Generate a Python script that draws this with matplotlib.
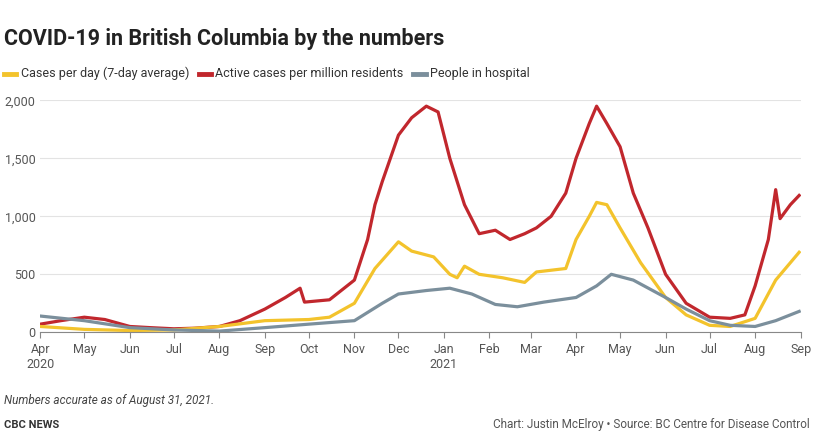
import matplotlib
matplotlib.use("Agg")
import matplotlib.pyplot as plt
import pandas as pd

plt.rcParams['font.family'] = ['Roboto', 'DejaVu Sans']

red_dates = ["2020-04-01","2020-04-15","2020-05-01","2020-05-15","2020-06-01","2020-06-15","2020-07-01","2020-07-15",
             "2020-08-01","2020-08-15","2020-09-01","2020-09-15","2020-09-25","2020-09-28","2020-10-15","2020-11-01",
             "2020-11-10","2020-11-15","2020-11-20","2020-12-01","2020-12-10","2020-12-20","2020-12-28","2021-01-05",
             "2021-01-15","2021-01-25","2021-02-05","2021-02-15","2021-02-25","2021-03-05","2021-03-15","2021-03-25",
             "2021-04-01","2021-04-10","2021-04-15","2021-04-22","2021-05-01","2021-05-10","2021-05-20","2021-06-01",
             "2021-06-15","2021-07-01","2021-07-15","2021-07-25","2021-08-01","2021-08-10","2021-08-15","2021-08-18",
             "2021-08-25","2021-08-31"]
red_vals = [70,100,130,110,50,40,30,35,50,100,200,300,380,260,280,450,800,1100,1300,1700,1850,1950,1900,1500,
            1100,850,880,800,850,900,1000,1200,1500,1800,1950,1800,1600,1200,900,500,250,130,120,150,400,800,
            1230,980,1100,1180]

yel_dates = ["2020-04-01","2020-05-01","2020-06-01","2020-07-01","2020-08-01","2020-09-01","2020-10-01","2020-10-15",
             "2020-11-01","2020-11-15","2020-12-01","2020-12-10","2020-12-25","2021-01-05","2021-01-10","2021-01-15",
             "2021-01-25","2021-02-10","2021-02-25","2021-03-05","2021-03-25","2021-04-01","2021-04-10","2021-04-15",
             "2021-04-22","2021-05-01","2021-05-15","2021-06-01","2021-06-15","2021-07-01","2021-07-15","2021-08-01",
             "2021-08-15","2021-08-31"]
yel_vals = [50,25,15,20,50,100,110,130,250,550,780,700,650,500,470,570,500,470,430,520,550,800,1000,1120,
            1100,900,600,300,150,60,50,120,450,690]

gry_dates = ["2020-04-01","2020-05-01","2020-06-01","2020-07-01","2020-08-01","2020-09-01","2020-10-01","2020-11-01",
             "2020-11-20","2020-12-01","2020-12-20","2021-01-05","2021-01-20","2021-02-05","2021-02-20","2021-03-10",
             "2021-04-01","2021-04-15","2021-04-25","2021-05-10","2021-06-01","2021-06-15","2021-07-01","2021-07-15",
             "2021-08-01","2021-08-15","2021-08-31"]
gry_vals = [140,100,40,20,10,40,70,100,250,330,360,380,330,240,220,260,300,400,500,450,300,200,100,60,50,100,180]

month_ticks = pd.date_range("2020-04-01", "2021-09-01", freq="MS")
month_labels = [d.strftime("%b") + ("\n" + str(d.year) if d.month == 4 and d.year == 2020 or d.month == 1 else "")
                for d in month_ticks]

fig = plt.figure(figsize=(8.22, 4.46), dpi=100)
ax = fig.add_axes([0.049, 0.255, 0.925, 0.52])

ax.plot(pd.to_datetime(red_dates), red_vals, color="#c1272d", lw=2.3)
ax.plot(pd.to_datetime(yel_dates), yel_vals, color="#f3c32c", lw=2.3)
ax.plot(pd.to_datetime(gry_dates), gry_vals, color="#7b8f9c", lw=2.3)

ax.set_xlim(pd.Timestamp("2020-04-01"), pd.Timestamp("2021-09-01"))
ax.set_ylim(0, 2000)
ax.set_yticks([0, 500, 1000, 1500, 2000])
ax.set_yticklabels(["0", "500", "1,000", "1,500", "2,000"])
ax.set_xticks(month_ticks)
ax.set_xticklabels(month_labels)
ax.tick_params(colors="#555555", labelsize=9, length=0)
ax.tick_params(axis="x", length=4, color="#888888")
ax.grid(axis="y", color="#e3e3e3", lw=0.8)
for s in ["top", "right", "left"]:
    ax.spines[s].set_visible(False)
ax.spines["bottom"].set_color("#888888")
ax.set_axisbelow(True)

fig.text(0.005, 0.9, "COVID-19 in British Columbia by the numbers", fontsize=15.5, weight="bold", color="#222222")
legend = [("Cases per day (7-day average)", "#f3c32c"), ("Active cases per million residents", "#c1272d"),
          ("People in hospital", "#7b8f9c")]
x = 0.005
for lab, col in legend:
    fig.add_artist(plt.Line2D([x, x + 0.015], [0.835, 0.835], color=col, lw=3.5, transform=fig.transFigure))
    t = fig.text(x + 0.02, 0.835, lab, fontsize=9, va="center", color="#333333")
    fig.canvas.draw()
    w = t.get_window_extent().width / fig.bbox.width
    x += 0.02 + w + 0.012

fig.text(0.005, 0.095, "Numbers accurate as of August 31, 2021.", fontsize=8.5, style="italic", color="#444444")
fig.text(0.005, 0.04, "CBC NEWS", fontsize=8, weight="bold", color="#333333")
fig.text(0.985, 0.04, "Chart: Justin McElroy \u2022 Source: BC Centre for Disease Control", fontsize=8.5,
         color="#555555", ha="right")

fig.savefig("out.png", dpi=100)
